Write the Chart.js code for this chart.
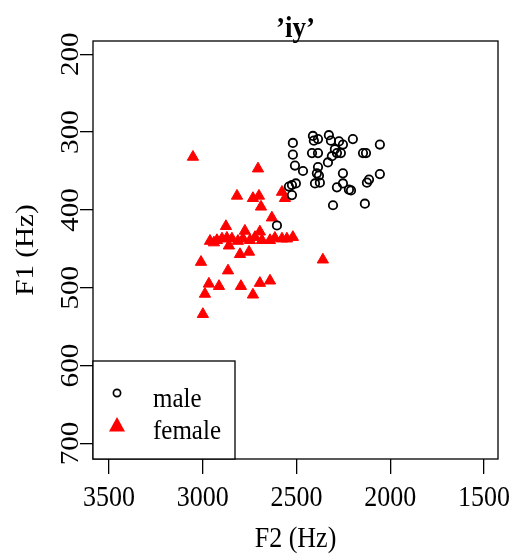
<!DOCTYPE html>
<html lang="en">

<head>
    <meta charset="UTF-8">
    <title>'iy' F1 / F2</title>
    <script src="https://cdn.jsdelivr.net/npm/chart.js"></script>
    <style>
        body {
            margin: 0;
            background: #fff;
        }

        #myChart {
            display: block;
        }
    </style>
</head>

<body>
    <canvas id="myChart" width="516" height="554"></canvas>

    <script>
        // data (Hz)
        const maleF2 = [2519, 2412, 2407, 2385, 2327, 2316, 2273, 2252, 2199, 2055, 2145, 2129, 2519, 2417, 2385, 2295, 2284, 2263, 2311, 2332, 2508, 2465, 2385, 2391, 2380, 2252, 2055, 2113, 2124, 2540, 2524, 2503, 2524, 2401, 2375, 2252, 2284, 2220, 2209, 2305, 2135, 2604];
        const maleF1 = [314, 305, 311, 309, 304, 311, 312, 316, 309, 316, 327, 327, 329, 327, 327, 322, 327, 327, 331, 339, 343, 350, 345, 353, 356, 353, 354, 361, 365, 370, 368, 366, 381, 366, 365, 366, 371, 374, 375, 394, 392, 420];
        const femaleF2 = [3052, 2705, 2817, 2732, 2700, 2577, 2561, 2689, 2631, 2876, 2775, 2695, 2961, 2940, 2924, 2897, 2871, 2844, 2812, 2785, 2748, 2721, 2684, 2641, 2615, 2577, 2551, 2519, 2860, 2801, 2753, 3009, 2865, 2967, 2913, 2796, 2695, 2641, 2988, 2732, 2999, 2359];
        const femaleF1 = [332, 347, 382, 385, 382, 377, 385, 396, 410, 421, 427, 428, 440, 442, 439, 437, 436, 437, 440, 437, 439, 435, 439, 439, 436, 437, 437, 435, 446, 457, 454, 467, 478, 495, 498, 498, 494, 491, 508, 509, 534, 464];

        const xTicks = [3500, 3000, 2500, 2000, 1500];
        const yTicks = [200, 300, 400, 500, 600, 700];
        const seriesNames = ['male', 'female'];
        const titleText = '\u2019iy\u2019';
        const xTitle = 'F2 (Hz)';
        const yTitle = 'F1 (Hz)';

        const FONT = "'Liberation Serif', 'Times New Roman', serif";
        const STRETCH = 1.12; // the picture is a bit taller than wide

        function toPoints(xs, ys) {
            return xs.map((x, i) => ({ x: x, y: ys[i] }));
        }

        // text helper, rot = true -> reads bottom to top
        function drawText(ctx, s, x, y, font, align, rot) {
            ctx.save();
            ctx.translate(x, y);
            if (rot) {
                ctx.rotate(-Math.PI / 2);
                ctx.scale(STRETCH, 1);
            } else {
                ctx.scale(1, STRETCH);
            }
            ctx.font = font;
            ctx.fillStyle = '#000';
            ctx.textAlign = align;
            ctx.textBaseline = 'alphabetic';
            ctx.fillText(s, 0, 0);
            ctx.restore();
        }

        const rStyle = {
            id: 'rStyle',
            afterDraw(chart) {
                const ctx = chart.ctx;
                const a = chart.chartArea;
                const xs = chart.scales.x;
                const ys = chart.scales.y;

                // plot box
                ctx.save();
                ctx.strokeStyle = '#000';
                ctx.lineWidth = 1.3;
                ctx.strokeRect(a.left, a.top, a.right - a.left, a.bottom - a.top);
                ctx.restore();

                // tick labels
                xTicks.forEach(v => drawText(ctx, String(v), xs.getPixelForValue(v), 506, '26px ' + FONT, 'center', false));
                yTicks.forEach(v => drawText(ctx, String(v), 78, ys.getPixelForValue(v), '26px ' + FONT, 'center', true));

                // titles
                drawText(ctx, titleText, (a.left + a.right) / 2, 37, 'bold 27px ' + FONT, 'center', false);
                drawText(ctx, xTitle, (a.left + a.right) / 2, 547, '26px ' + FONT, 'center', false);
                drawText(ctx, yTitle, 33, (a.top + a.bottom) / 2, '26px ' + FONT, 'center', true);

                // legend, bottom left corner of the plot
                const lx = a.left, lw = 142, lh = 98;
                const ly = a.bottom - lh;
                ctx.save();
                ctx.fillStyle = '#fff';
                ctx.fillRect(lx, ly, lw, lh);
                ctx.strokeStyle = '#000';
                ctx.lineWidth = 1.3;
                ctx.strokeRect(lx, ly, lw, lh);

                ctx.beginPath();
                ctx.arc(lx + 24, ly + 32, 3.6, 0, Math.PI * 2);
                ctx.lineWidth = 1.7;
                ctx.stroke();

                ctx.beginPath();
                ctx.moveTo(lx + 24, ly + 56);
                ctx.lineTo(lx + 32, ly + 70.5);
                ctx.lineTo(lx + 16, ly + 70.5);
                ctx.closePath();
                ctx.fillStyle = '#ff0000';
                ctx.fill();
                ctx.restore();

                drawText(ctx, seriesNames[0], lx + 60, ly + 46, '25px ' + FONT, 'left', false);
                drawText(ctx, seriesNames[1], lx + 60, ly + 77.5, '25px ' + FONT, 'left', false);
            }
        };

        const ctx = document.getElementById('myChart').getContext('2d');
        const myChart = new Chart(ctx, {
            type: 'scatter',
            data: {
                datasets: [{
                    label: seriesNames[0],
                    data: toPoints(maleF2, maleF1),
                    pointStyle: 'circle',
                    pointRadius: 4.2,
                    pointBorderWidth: 1.8,
                    borderColor: '#000',
                    backgroundColor: 'rgba(0,0,0,0)'
                }, {
                    label: seriesNames[1],
                    data: toPoints(femaleF2, femaleF1),
                    pointStyle: 'triangle',
                    pointRadius: 6.5,
                    pointBorderWidth: 1,
                    borderColor: '#ff0000',
                    backgroundColor: '#ff0000'
                }]
            },
            options: {
                responsive: false,
                animation: false,
                events: [],
                layout: {
                    padding: { top: 41, right: 18, left: 0, bottom: 0 }
                },
                scales: {
                    x: {
                        type: 'linear',
                        reverse: true,
                        min: 1425,
                        max: 3585,
                        afterBuildTicks: s => { s.ticks = xTicks.map(v => ({ value: v })); },
                        afterFit: s => { s.height = 95; },
                        grid: {
                            drawOnChartArea: false,
                            drawTicks: true,
                            tickLength: 15,
                            color: '#000',
                            lineWidth: 1.3
                        },
                        border: { display: false },
                        ticks: { display: false }
                    },
                    y: {
                        type: 'linear',
                        reverse: true,
                        min: 183,
                        max: 720,
                        afterBuildTicks: s => { s.ticks = yTicks.map(v => ({ value: v })); },
                        afterFit: s => { s.width = 93; },
                        grid: {
                            drawOnChartArea: false,
                            drawTicks: true,
                            tickLength: 13,
                            color: '#000',
                            lineWidth: 1.3
                        },
                        border: { display: false },
                        ticks: { display: false }
                    }
                },
                plugins: {
                    legend: { display: false },
                    tooltip: { enabled: false }
                }
            },
            plugins: [rStyle]
        });
    </script>
</body>

</html>
